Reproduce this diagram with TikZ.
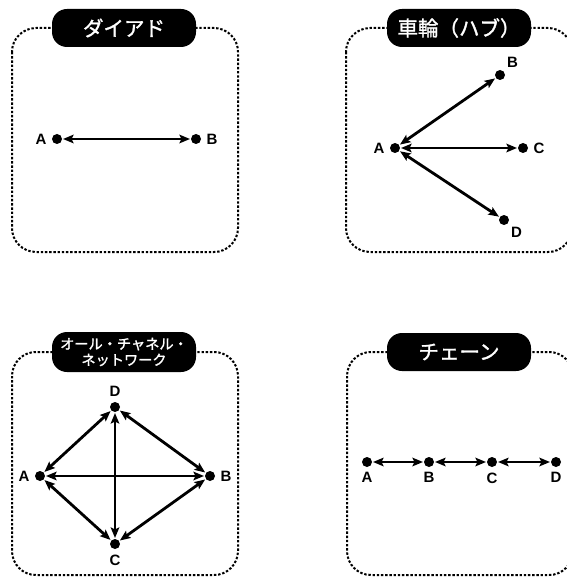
\documentclass[tikz,border=0pt]{standalone}
\usepackage{fontspec}
\setmainfont{Liberation Sans}
\newfontfamily\jpfont[FakeBold=1.5]{Noto Sans CJK JP}
\usetikzlibrary{positioning,arrows.meta}
\tikzset{dot/.style={circle,fill=black,minimum size=10pt,inner sep=0pt,outer sep=1pt}}
\tikzset{frame/.style={draw,line width=2pt,dash pattern=on 2.4pt off 1.8pt,rounded corners=24pt}}
\tikzset{tag/.style={fill=black,text=white,rounded corners=15pt,minimum width=144pt,minimum height=38pt,inner sep=0pt,font=\jpfont\fontsize{20.5}{22}\selectfont}}
\tikzset{link/.style={<->,line width=2.8pt}}
\tikzset{>={Stealth[length=10.5pt,width=8.5pt,inset=2pt]}}

\begin{document}
\begin{tikzpicture}[x=1pt,y=-1pt,every label/.style={font=\bfseries\fontsize{15}{16}\selectfont},label distance=1pt]
\useasboundingbox (0,0) rectangle (566,577);
% frames
\draw[frame] (12,28) rectangle (238,252);
\draw[frame] (346,28) rectangle (572,252);
\draw[frame] (12,352) rectangle (238,575);
\draw[frame] (347,352) rectangle (573,575);

\node[tag] (t1) at (124,28) {ダイアド};
\node[tag] (t2) at (459,28) {車輪（ハブ）};
\node[tag,minimum height=40pt,align=center,font=\jpfont\fontsize{14.2}{16}\selectfont] (t3) at (124,352) {オール・チャネル・\\ネットワーク};
\node[tag] (t4) at (459,352) {チェーン};

% dyad
\node[dot,label=left:A] (a1) at (57,139) {};
\node[dot,label=right:B] (b1) at (196,139) {};
\draw[link] (a1) -- (b1);

% wheel
\node[dot,label=left:A] (a2) at (395,148) {};
\node[dot,label={[label distance=-1pt]above right:B}] (b2) at (500,75) {};
\node[dot,label=right:C] (c2) at (523,148) {};
\node[dot,label={[label distance=-1pt]below right:D}] (d2) at (504,220) {};
\draw[link] (a2) -- (b2);
\draw[link] (a2) -- (c2);
\draw[link] (a2) -- (d2);

% all channel
\node[dot,label=above:D] (d3) at (115,407) {};
\node[dot,label=left:A] (a3) at (40,476) {};
\node[dot,label=right:B] (b3) at (210,476) {};
\node[dot,label=below:C] (c3) at (115,544) {};
\draw[link] (a3) -- (d3);
\draw[link] (d3) -- (b3);
\draw[link] (b3) -- (c3);
\draw[link] (c3) -- (a3);
\draw[link] (a3) -- (b3);
\draw[link] (d3) -- (c3);

% chain
\node[dot,label=below:A] (a4) at (367,462) {};
\node[dot,label=below:B] (b4) at (429,462) {};
\node[dot,label=below:C] (c4) at (492,462) {};
\node[dot,label=below:D] (d4) at (556,462) {};
\draw[link] (a4) -- (b4);
\draw[link] (b4) -- (c4);
\draw[link] (c4) -- (d4);
\end{tikzpicture}
\end{document}
